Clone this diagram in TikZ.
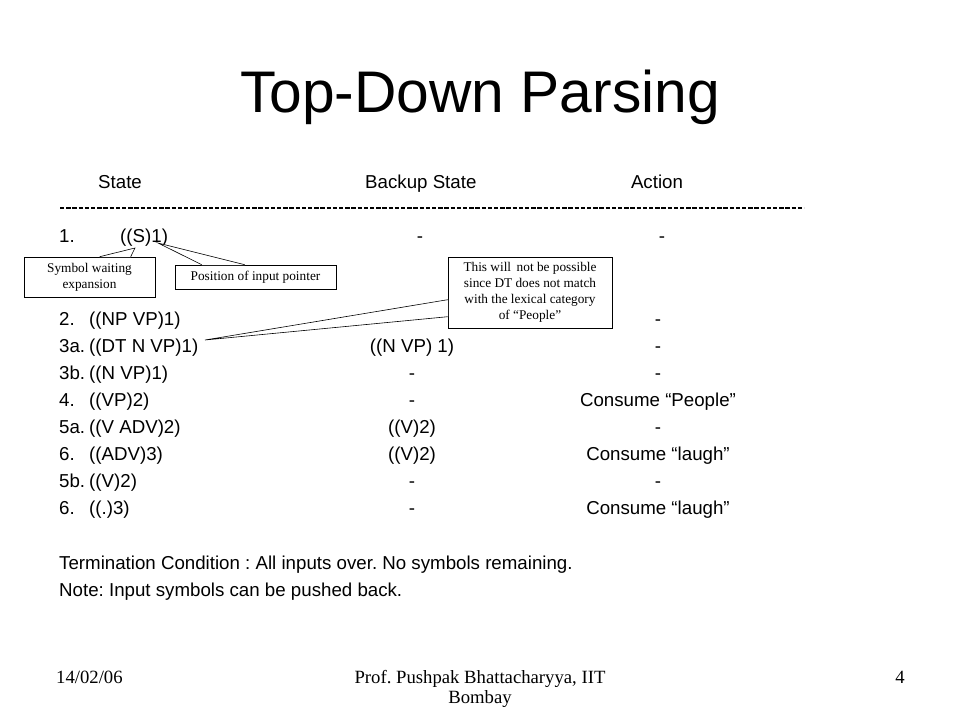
\documentclass[tikz,border=0pt]{standalone}
\usepackage{fontspec}
\setmainfont{Liberation Sans}
\newfontfamily\serif{Liberation Serif}
\usetikzlibrary{positioning,calc}
\frenchspacing

\begin{document}
\begin{tikzpicture}
        [
        x=1pt, y=-1pt,
        every node/.style={inner sep=0pt, font=\fontsize{18.7}{22}\selectfont},
        row/.style={anchor=base west},
        col/.style={anchor=base},
        note/.style={draw, fill=white, line width=0.6pt, align=center,
                font=\serif\fontsize{13.3}{16}\selectfont},
        wedge/.style={draw, line width=0.6pt}
        ]
        \useasboundingbox (0,0) rectangle (960,720);
        % Title
        \node[col, font=\fontsize{58.7}{60}\selectfont] (title) at (480,112) {Top-Down Parsing};
        % Header
        \node[row] (hstate) at (98,188) {State};
        \node[row] (hbackup) at (365,188) {Backup State};
        \node[col] (haction) at (657,188) {Action};
        \draw[line width=1.4pt, dash pattern=on 4.4pt off 1.8pt] (60,208) -- (804,208);
        % Rows
        \node[row] (n1) at (59,242) {1.};
        \node[row] (s1) at (120,242) {((S)1)};
        \node[col] (b1) at (420,242) {-};
        \node[col] (a1) at (662,242) {-};
        \foreach \n/\s/\b/\a [count=\i] in
                {2./((NP VP)1)/ /-,
                 3a./((DT N VP)1)/((N VP) 1)/-,
                 3b./((N VP)1)/-/-,
                 4./((VP)2)/-/Consume “People”,
                 5a./((V ADV)2)/((V)2)/-,
                 6./((ADV)3)/((V)2)/Consume “laugh”,
                 5b./((V)2)/-/-,
                 6./((.)3)/-/Consume “laugh”}
        {
                \node[row] (n\i) at (59,298+27*\i) {\n};
                \node[row] (s\i) at (89,298+27*\i) {\s};
                \node[col] (b\i) at (412,298+27*\i) {\b};
                \node[col] (a\i) at (658,298+27*\i) {\a};
        }
        % Notes below
        \node[row] (term) at (59,569) {Termination Condition : All inputs over. No symbols remaining.};
        \node[row] (push) at (59,596) {Note: Input symbols can be pushed back.};
        % Callouts
        \node[note, minimum width=131pt, minimum height=40pt] (wait) at (89.5,277)
                {Symbol waiting\\expansion};
        \node[note, minimum width=161pt, minimum height=24pt] (ptr) at (255.5,277)
                {Position of input pointer};
        \node[note, minimum width=164pt, minimum height=71pt] (dt) at (530,292.5)
                {This will\, not be possible\\since DT does not match\\with the lexical category\\of “People”};
        \coordinate (waittip) at (135,248);
        \coordinate (ptrtip) at (158,243);
        \coordinate (dttip) at (205,340);
        \fill[white] ($(wait.north west)+(76,0.5)$) -- (waittip) -- ($(wait.north west)+(107,0.5)$) -- cycle;
        \draw[wedge] ($(wait.north west)+(76,0)$) -- (waittip) -- ($(wait.north west)+(107,0)$);
        \fill[white] ($(ptr.north west)+(27,0.5)$) -- (ptrtip) -- ($(ptr.north west)+(70,0.5)$) -- cycle;
        \draw[wedge] ($(ptr.north west)+(27,0)$) -- (ptrtip) -- ($(ptr.north west)+(70,0)$);
        \fill[white] ($(dt.north west)+(0.5,43)$) -- (dttip) -- ($(dt.north west)+(0.5,60)$) -- cycle;
        \draw[wedge] ($(dt.north west)+(0,43)$) -- (dttip) -- ($(dt.north west)+(0,60)$);
        % Footer
        \node[anchor=base west, font=\serif\fontsize{18.7}{22}\selectfont] (date) at (56,683) {14/02/06};
        \node[anchor=base, align=center, font=\serif\fontsize{18.7}{20}\selectfont] (author) at (480,703)
                {Prof. Pushpak Bhattacharyya, IIT\\Bombay};
        \node[anchor=base east, font=\serif\fontsize{18.7}{22}\selectfont] (page) at (905,683) {4};
\end{tikzpicture}
\end{document}
